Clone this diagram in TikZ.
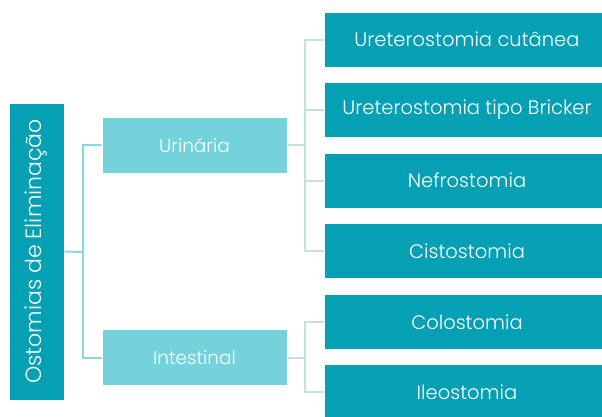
\documentclass[tikz,border=0pt]{standalone}
\usepackage{fontspec}
\setmainfont{Poppins Light}
\usepackage{xcolor}
\definecolor{tealdark}{HTML}{05A0B4}
\definecolor{teallight}{HTML}{73D2DC}
\definecolor{linecyan}{HTML}{8DD5DF}
\definecolor{linegreen}{HTML}{C3E5D7}

\begin{document}
\begin{tikzpicture}[x=1pt, y=-1pt, inner sep=0pt,
		rootbox/.style={draw=white, line width=1pt, fill=tealdark, text=white, rotate=90, minimum width=297, minimum height=55, font=\fontsize{22}{26}\selectfont},
		midbox/.style={draw=white, line width=1pt, fill=teallight, text=white, minimum width=185, minimum height=56, font=\fontsize{18.5}{22}\selectfont},
		leafbox/.style={draw=white, line width=1pt, fill=tealdark, text=white, minimum width=286, minimum height=55, font=\fontsize{19.5}{23}\selectfont},
		linkone/.style={draw=linecyan, line width=2pt},
		linktwo/.style={draw=linegreen, line width=2pt}]
		\useasboundingbox (0,0) rectangle (602,416);
		\clip (0,0) rectangle (602,416);
			\node[rootbox] (root) at (36.5, 251.5) {Ostomias de Eliminação};
			\node[midbox] (uri) at (194.5, 145) {Urinária};
			\node[midbox] (intest) at (194.5, 357.5) {Intestinal};
			\node[leafbox] (cutanea) at (467, 39.5) {Ureterostomia cutânea};
			\node[leafbox] (bricker) at (467, 109.5) {Ureterostomia tipo Bricker};
			\node[leafbox] (nefro) at (467, 180.5) {Nefrostomia};
			\node[leafbox] (cisto) at (467, 251) {Cistostomia};
			\node[leafbox] (colo) at (467, 322) {Colostomia};
			\node[leafbox] (ileo) at (467, 392) {Ileostomia};
			\coordinate (rootjoin) at (83, 252);
			\coordinate (urijoin) at (305, 145);
			\coordinate (intestjoin) at (305, 357.5);
	
			\draw[linkone] (root.south) -- (rootjoin) |- (uri.west);
			\draw[linkone] (rootjoin) |- (intest.west);
			\draw[linktwo] (uri.east) -- (urijoin);
			\foreach \leaf in {cutanea, bricker, nefro, cisto}
				\draw[linktwo] (urijoin) |- (\leaf.west);
			\draw[linktwo] (intest.east) -- (intestjoin);
			\foreach \leaf in {colo, ileo}
				\draw[linktwo] (intestjoin) |- (\leaf.west);
		\end{tikzpicture}
\end{document}
